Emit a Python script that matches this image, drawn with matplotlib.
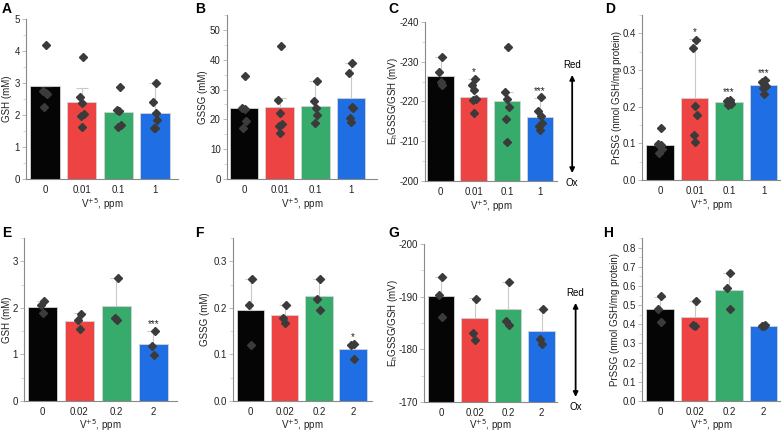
import numpy as np
import matplotlib
matplotlib.use("Agg")
import matplotlib.pyplot as plt
from matplotlib.ticker import AutoMinorLocator, FormatStrFormatter

plt.rcParams['font.family'] = ['Liberation Sans', 'DejaVu Sans']
plt.rcParams['axes.unicode_minus'] = False

# ---------------- data ----------------
doses_top = ["0", "0.01", "0.1", "1"]
doses_bottom = ["0", "0.02", "0.2", "2"]
bar_colors = ["#050505", "#ee4343", "#36ab6b", "#1f6ee4"]

A_mean = [2.91, 2.41, 2.10, 2.07]
A_err = [0.0, 0.42, 0.06, 0.93]
A_pts = [[4.18, 2.76, 2.70, 2.66, 2.24],
         [3.82, 2.55, 2.36, 2.02, 1.98, 1.64],
         [2.89, 2.16, 2.12, 1.69, 1.61],
         [3.01, 2.42, 2.05, 1.84, 1.60, 1.58]]
A_sig = ["", "", "", ""]

B_mean = [23.7, 24.2, 24.6, 27.0]
B_err = [0.0, 2.8, 8.3, 11.9]
B_pts = [[34.7, 23.7, 23.5, 19.3, 17.0],
         [44.6, 26.6, 22.3, 18.6, 17.8, 15.4],
         [33.0, 26.1, 23.7, 21.3, 18.7],
         [38.8, 35.7, 24.2, 23.8, 20.3, 19.1]]
B_sig = ["", "", "", ""]

C_mean = [-226.4, -221.2, -220.0, -216.0]
C_err = [4.8, 4.4, 2.3, 5.0]
C_pts = [[-231.2, -227.5, -224.8, -224.2],
         [-225.6, -224.1, -222.9, -220.7, -220.4, -217.0],
         [-233.6, -222.3, -220.7, -218.7, -215.7, -209.9],
         [-221.1, -217.5, -216.3, -214.5, -213.8, -212.8]]
C_sig = ["", "*", "", "***"]

D_mean = [0.096, 0.224, 0.213, 0.258]
D_err = [0.0, 0.16, 0.009, 0.016]
D_pts = [[0.141, 0.098, 0.095, 0.084, 0.075],
         [0.382, 0.361, 0.203, 0.178, 0.123, 0.103],
         [0.218, 0.215, 0.212, 0.208, 0.205],
         [0.272, 0.266, 0.261, 0.256, 0.251, 0.234]]
D_sig = ["", "*", "***", "***"]

E_mean = [2.02, 1.71, 2.05, 1.22]
E_err = [0.12, 0.17, 0.60, 0.28]
E_pts = [[2.15, 2.07, 1.88], [1.87, 1.73, 1.54], [2.65, 1.78, 1.73], [1.50, 1.19, 0.99]]
E_sig = ["", "", "", "***"]

F_mean = [0.196, 0.184, 0.226, 0.111]
F_err = [0.067, 0.023, 0.037, 0.011]
F_pts = [[0.262, 0.207, 0.121], [0.206, 0.179, 0.167], [0.262, 0.219, 0.196], [0.122, 0.121, 0.090]]
F_sig = ["", "", "", "*"]

G_mean = [-190.1, -185.9, -187.6, -183.5]
G_err = [3.7, 3.8, 5.1, 4.2]
G_pts = [[-193.8, -190.3, -186.2], [-189.6, -183.1, -181.8], [-192.7, -185.3, -184.7], [-187.7, -182.0, -181.1]]
G_sig = ["", "", "", ""]

H_mean = [0.478, 0.437, 0.577, 0.391]
H_err = [0.066, 0.085, 0.089, 0.009]
H_pts = [[0.545, 0.480, 0.412], [0.521, 0.394, 0.392], [0.665, 0.590, 0.478], [0.396, 0.393, 0.390]]
H_sig = ["", "", "", ""]

JITTER = [0.04, -0.05, 0.02, 0.06, -0.02, 0.0]

# ---------------- layout ----------------
W, H = 781, 432
fig = plt.figure(figsize=(W / 100, H / 100), dpi=100)

FS = 7
GRAY = "#8a8a8a"


def make_ax(rect, centers):
    l, t, r, b = rect
    ax = fig.add_axes([l / W, 1 - b / H, (r - l) / W, (b - t) / H])
    cb, cu = centers
    s = (cu - cb) / 3.0
    ax.set_xlim((l - cb) / s, (r - cb) / s)
    return ax


def panel(letter, rect, centers, mean, err, pts, sig, cats, ylim, yticks, ylabel,
          fmt, letter_xy, ylab_x, base=0.0, inverted=False, redox=None, xpad=1.5):
    ax = make_ax(rect, centers)
    x = np.arange(len(cats))
    mean = np.array(mean)
    err = np.array(err)
    ax.bar(x, mean - base, bottom=base, width=0.8, color=bar_colors,
           edgecolor="#d4d4d4", linewidth=0.6, zorder=2)
    zeros = np.zeros_like(err)
    yerr = [err, zeros] if inverted else [zeros, err]
    ax.errorbar(x, mean, yerr=yerr, fmt="none", ecolor="#c9c9c9", elinewidth=0.8,
                capsize=4.5, capthick=0.8, zorder=3)
    for i, p in enumerate(pts):
        xs = [i + JITTER[j % len(JITTER)] for j in range(len(p))]
        ax.plot(xs, p, linestyle="none", marker="D", markersize=3.6,
                color="#3b3b3b", zorder=4)
    for i, s_ in enumerate(sig):
        if s_:
            cap = mean[i] - err[i] if inverted else mean[i] + err[i]
            ax.annotate(s_, xy=(i, cap), xytext=(0, 5), textcoords="offset points",
                        ha="center", va="center", fontsize=FS, color="#222222")
    ax.set_ylim(*ylim)
    ax.set_yticks(yticks)
    ax.yaxis.set_major_formatter(FormatStrFormatter(fmt))
    ax.yaxis.set_minor_locator(AutoMinorLocator(2))
    ax.set_xticks(x)
    ax.set_xticklabels(cats)
    for sp in ["top", "right"]:
        ax.spines[sp].set_visible(False)
    for sp in ["left", "bottom"]:
        ax.spines[sp].set_color(GRAY)
        ax.spines[sp].set_linewidth(0.8)
    ax.tick_params(axis="y", which="major", length=3, width=0.6, color="#b0b0b0",
                   labelsize=FS, pad=1.5, labelcolor="#222222")
    ax.tick_params(axis="y", which="minor", length=2, width=0.5, color="#c8c8c8")
    ax.tick_params(axis="x", length=0, labelsize=FS, pad=4, labelcolor="#222222")
    ax.set_xlabel("V$^{+5}$, ppm", fontsize=FS, labelpad=xpad, color="#222222")
    ax.set_ylabel(ylabel, fontsize=FS, color="#222222")
    l, t, r, b = rect
    ax.yaxis.set_label_coords((ylab_x + 4.5 - l) / (r - l), 0.5)
    fig.text(letter_xy[0] / W, 1 - letter_xy[1] / H, letter, fontsize=10,
             fontweight="bold", ha="left", va="center")
    if redox is not None:
        xa, y_top, y_bot, y_red, y_ox = redox
        tr = ax.transAxes
        ax.annotate("", xy=(xa, y_top), xytext=(xa, y_bot), xycoords=tr, textcoords=tr,
                    arrowprops=dict(arrowstyle="<|-|>", color="black", lw=1.3,
                                    mutation_scale=7, shrinkA=0, shrinkB=0),
                    annotation_clip=False)
        ax.text(xa, y_red, "Red", transform=tr, ha="center", va="center", fontsize=FS,
                clip_on=False)
        ax.text(xa, y_ox, "Ox", transform=tr, ha="center", va="center", fontsize=FS,
                clip_on=False)
    return ax


EH_LABEL = "E$_\\mathregular{h}$GSSG/GSH (mV)"

panel("A", (26, 19, 178, 179), (45, 155), A_mean, A_err, A_pts, A_sig, doses_top,
      (0, 5), [0, 1, 2, 3, 4, 5], "GSH (mM)", "%d", (2, 9), 8)
panel("B", (227, 15, 377, 179), (244, 351), B_mean, B_err, B_pts, B_sig, doses_top,
      (0, 55), [0, 10, 20, 30, 40, 50], "GSSG (mM)", "%d", (195, 9), 203)
panel("C", (425, 22, 557, 181), (440.5, 540), C_mean, C_err, C_pts, C_sig, doses_top,
      (-200, -240), [-240, -230, -220, -210, -200], EH_LABEL, "%d", (388, 9), 395,
      base=-200, inverted=True, redox=(1.115, 0.667, 0.05, 0.73, -0.013))
panel("D", (642, 15, 781, 180), (660, 763.5), D_mean, D_err, D_pts, D_sig, doses_top,
      (0, 0.45), [0, 0.1, 0.2, 0.3, 0.4], "PrSSG (nmol GSH/mg protein)", "%.1f",
      (605, 9), 617)
panel("E", (24, 238, 177, 401), (42.5, 153.5), E_mean, E_err, E_pts, E_sig, doses_bottom,
      (0, 3.5), [0, 1, 2, 3], "GSH (mM)", "%d", (2, 233), 7, xpad=0.3)
panel("F", (233, 238, 372, 401), (250.5, 353), F_mean, F_err, F_pts, F_sig, doses_bottom,
      (0, 0.35), [0, 0.1, 0.2, 0.3], "GSSG (mM)", "%.1f", (195, 233), 205, xpad=0.3)
panel("G", (424, 244, 557, 402), (441, 541.5), G_mean, G_err, G_pts, G_sig, doses_bottom,
      (-170, -200), [-200, -190, -180, -170], EH_LABEL, "%d", (388, 233), 395,
      base=-170, inverted=True, redox=(1.14, 0.627, 0.032, 0.69, -0.03), xpad=0.0)
panel("H", (642, 238, 781, 401), (660, 763.5), H_mean, H_err, H_pts, H_sig, doses_bottom,
      (0, 0.85), [0, 0.1, 0.2, 0.3, 0.4, 0.5, 0.6, 0.7, 0.8],
      "PrSSG (nmol GSH/mg protein)", "%.1f", (603, 233), 615, xpad=0.3)

fig.savefig("out.png", dpi=100)
